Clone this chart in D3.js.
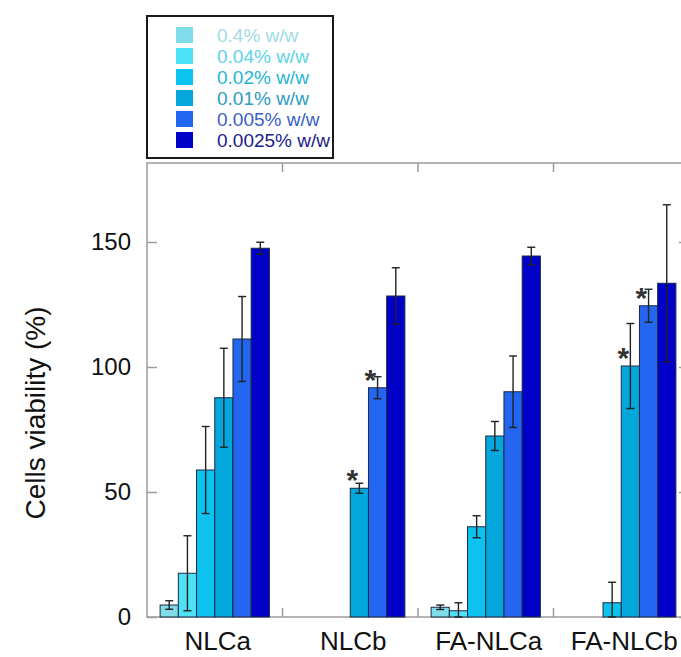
<!DOCTYPE html>
<html>
<head>
<meta charset="utf-8">
<title>Cells viability</title>
<script src="https://cdnjs.cloudflare.com/ajax/libs/d3/7.8.5/d3.min.js"></script>
<style>
  body { margin: 0; background: #fff; }
  #plot svg { display: block; font-family: Arial, "Liberation Sans", sans-serif; }
</style>
</head>
<body>
<div id="plot"></div>
<script>
// Data
const groups = ["NLCa", "NLCb", "FA-NLCa", "FA-NLCb"];
const series = ["0.4% w/w", "0.04% w/w", "0.02% w/w", "0.01% w/w", "0.005% w/w", "0.0025% w/w"];
const values = {
  "NLCa":    [4.8, 17.5, 58.8, 87.7, 111.2, 147.5],
  "NLCb":    [null, null, null, 51.5, 91.7, 128.4],
  "FA-NLCa": [3.9, 2.5, 36.1, 72.4, 90.1, 144.4],
  "FA-NLCb": [null, null, 5.7, 100.4, 124.5, 133.5]
};
const errors = {
  "NLCa":    [1.7, 15, 17.4, 19.8, 17, 2.4],
  "NLCb":    [null, null, null, 2, 4.4, 11.3],
  "FA-NLCa": [0.9, 3.2, 4.4, 5.8, 14.3, 3.5],
  "FA-NLCb": [null, null, 8.2, 17, 6.6, 31.4]
};
// which bars carry a significance star
const stars = [
  ["NLCb", "0.01% w/w"], ["NLCb", "0.005% w/w"],
  ["FA-NLCb", "0.01% w/w"], ["FA-NLCb", "0.005% w/w"]
];
const yTicks = [0, 50, 100, 150];

const barColors = ["#80dce8", "#4ee2f6", "#0cc2ef", "#03a7dc", "#2366ef", "#0000c8"];
const textColors = ["#9edbe6", "#5dd3e4", "#1fb4d4", "#2a9cc0", "#3a5ec6", "#1b1b8a"];

document.addEventListener("DOMContentLoaded", function () {
  const width = 681;
  const height = 657;
  const plot = { left: 147, right: 689, top: 163, bottom: 617 };

  const svg = d3.select("#plot")
    .append("svg")
    .attr("width", width)
    .attr("height", height);

  // Scales
  const x = d3.scaleBand()
    .domain(groups)
    .range([plot.left, plot.right])
    .padding(0);

  const xInner = d3.scaleBand()
    .domain(series)
    .range([0, x.bandwidth()])
    .paddingInner(0)
    .paddingOuter(0.72);

  const y = d3.scaleLinear()
    .domain([0, 181.6])
    .range([plot.bottom, plot.top]);

  // Flatten to one record per bar
  const bars = [];
  groups.forEach(g => {
    series.forEach((s, i) => {
      if (values[g][i] == null) return;
      bars.push({ group: g, series: s, idx: i, value: values[g][i], err: errors[g][i] });
    });
  });

  // Frame (grey box with inward ticks)
  const frame = svg.append("g").attr("stroke", "#9c9c9c").attr("stroke-width", 1.5).attr("fill", "none");
  frame.append("rect")
    .attr("x", plot.left)
    .attr("y", plot.top)
    .attr("width", plot.right - plot.left)
    .attr("height", plot.bottom - plot.top);

  // Left axis (ticks inward)
  const yAxis = svg.append("g")
    .attr("transform", `translate(${plot.left},0)`)
    .call(d3.axisLeft(y).tickValues(yTicks).tickSizeInner(-10).tickSizeOuter(0).tickPadding(16));
  yAxis.select(".domain").remove();
  yAxis.selectAll(".tick line").attr("stroke", "#9c9c9c").attr("stroke-width", 1.5);
  yAxis.selectAll(".tick text")
    .attr("font-size", "24px")
    .attr("fill", "#111")
    .attr("font-family", "Arial, 'Liberation Sans', sans-serif");

  // Right side ticks
  const yAxisR = svg.append("g")
    .attr("transform", `translate(${plot.right},0)`)
    .call(d3.axisRight(y).tickValues(yTicks).tickSizeInner(-10).tickSizeOuter(0).tickFormat(""));
  yAxisR.select(".domain").remove();
  yAxisR.selectAll(".tick line").attr("stroke", "#9c9c9c").attr("stroke-width", 1.5);

  // Group separators on top and bottom edges
  const sepX = groups.slice(1).map(g => x(g));
  svg.selectAll(".sepTop")
    .data(sepX)
    .enter()
    .append("line")
    .attr("x1", d => d).attr("x2", d => d)
    .attr("y1", plot.top).attr("y2", plot.top + 9)
    .attr("stroke", "#9c9c9c").attr("stroke-width", 1.5);
  svg.selectAll(".sepBot")
    .data(sepX)
    .enter()
    .append("line")
    .attr("x1", d => d).attr("x2", d => d)
    .attr("y1", plot.bottom).attr("y2", plot.bottom - 9)
    .attr("stroke", "#9c9c9c").attr("stroke-width", 1.5);

  // Bars
  svg.selectAll(".bar")
    .data(bars)
    .enter()
    .append("rect")
    .attr("x", d => x(d.group) + xInner(d.series))
    .attr("y", d => y(d.value))
    .attr("width", xInner.bandwidth())
    .attr("height", d => y(0) - y(d.value))
    .attr("fill", d => barColors[d.idx])
    .attr("stroke", "#1c2a44")
    .attr("stroke-width", 1);

  // Error bars
  const eb = svg.selectAll(".err")
    .data(bars)
    .enter()
    .append("g")
    .attr("stroke", "#222")
    .attr("stroke-width", 1.4);
  const cx = d => x(d.group) + xInner(d.series) + xInner.bandwidth() / 2;
  eb.append("line")
    .attr("x1", cx).attr("x2", cx)
    .attr("y1", d => y(d.value + d.err))
    .attr("y2", d => y(Math.max(0, d.value - d.err)));
  eb.append("line")
    .attr("x1", d => cx(d) - 4).attr("x2", d => cx(d) + 4)
    .attr("y1", d => y(d.value + d.err)).attr("y2", d => y(d.value + d.err));
  eb.append("line")
    .attr("x1", d => cx(d) - 4).attr("x2", d => cx(d) + 4)
    .attr("y1", d => y(Math.max(0, d.value - d.err))).attr("y2", d => y(Math.max(0, d.value - d.err)));

  // Significance stars
  svg.selectAll(".star")
    .data(stars)
    .enter()
    .append("text")
    .attr("x", d => x(d[0]) + xInner(d[1]) + 2)
    .attr("y", d => y(values[d[0]][series.indexOf(d[1])]) + 2)
    .attr("text-anchor", "middle")
    .attr("font-size", "30px")
    .attr("font-weight", "bold")
    .attr("fill", "#333")
    .text("*");

  // Category labels
  svg.selectAll(".cat")
    .data(groups)
    .enter()
    .append("text")
    .attr("x", d => x(d) + x.bandwidth() / 2 + 3)
    .attr("y", 650)
    .attr("text-anchor", "middle")
    .attr("font-size", "26px")
    .attr("fill", "#111")
    .text(d => d);

  // Y axis label
  svg.append("text")
    .attr("transform", "rotate(-90)")
    .attr("x", -413)
    .attr("y", 45)
    .attr("text-anchor", "middle")
    .attr("font-size", "28px")
    .attr("fill", "#111")
    .text("Cells viability (%)");

  // Legend
  const legend = svg.append("g");
  legend.append("rect")
    .attr("x", 147)
    .attr("y", 16)
    .attr("width", 186)
    .attr("height", 142)
    .attr("fill", "#fff")
    .attr("stroke", "#1a1a1a")
    .attr("stroke-width", 2);

  const rowY = d3.scalePoint().domain(series).range([35, 140]);
  const items = legend.selectAll(".item")
    .data(series)
    .enter()
    .append("g")
    .attr("transform", d => `translate(0,${rowY(d)})`);
  items.append("rect")
    .attr("x", 176)
    .attr("y", -8)
    .attr("width", 17)
    .attr("height", 16)
    .attr("fill", (d, i) => barColors[i]);
  items.append("text")
    .attr("x", 217)
    .attr("y", 7)
    .attr("font-size", "19px")
    .attr("fill", (d, i) => textColors[i])
    .text(d => d);
});
</script>
</body>
</html>
